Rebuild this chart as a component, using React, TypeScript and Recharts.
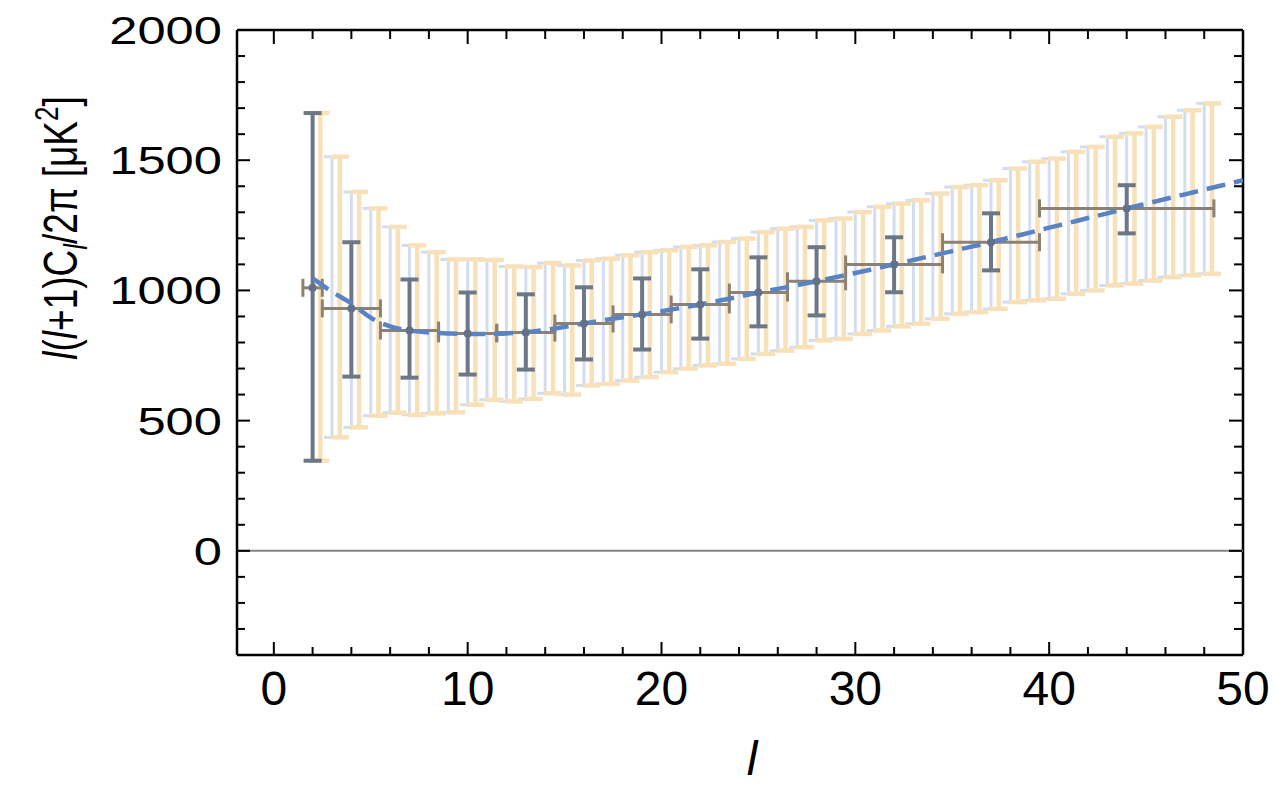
import React from "react";
import { ComposedChart, Scatter, Line, XAxis, YAxis, ErrorBar, ReferenceLine } from "recharts";

// cosmic-variance bands, one per multipole
const bandL = [2, 3, 4, 5, 6, 7, 8, 9, 10, 11, 12, 13, 14, 15, 16, 17, 18, 19, 20, 21, 22, 23, 24, 25, 26, 27, 28, 29, 30, 31, 32, 33, 34, 35, 36, 37, 38, 39, 40, 41, 42, 43, 44, 45, 46, 47, 48];
const bandLo = [346, 436, 474, 519, 530, 522, 528, 532, 561, 580, 574, 583, 605, 600, 635, 641, 654, 667, 686, 699, 712, 718, 737, 756, 769, 782, 808, 814, 833, 846, 862, 872, 891, 910, 917, 929, 955, 962, 968, 987, 1000, 1019, 1026, 1038, 1051, 1058, 1064];
const bandHi = [1681, 1513, 1378, 1315, 1244, 1173, 1147, 1119, 1119, 1117, 1092, 1090, 1105, 1096, 1115, 1122, 1135, 1147, 1154, 1167, 1173, 1186, 1199, 1224, 1237, 1244, 1269, 1276, 1301, 1321, 1333, 1346, 1372, 1397, 1404, 1423, 1468, 1494, 1506, 1532, 1551, 1590, 1603, 1628, 1667, 1692, 1718];

// binned measurements
const binL = [2, 4, 7, 10, 13, 16, 19, 22, 25, 28, 32, 37, 44];
const binLeft = [1.5, 2.5, 5.5, 8.5, 11.5, 14.5, 17.5, 20.5, 23.5, 26.5, 29.5, 34.5, 39.5];
const binRight = [2.5, 5.5, 8.5, 11.5, 14.5, 17.5, 20.5, 23.5, 26.5, 29.5, 34.5, 39.5, 48.5];
const binVal = [1010, 931, 846, 835, 838, 873, 908, 946, 992, 1035, 1100, 1185, 1315];
const binLo = [346, 669, 665, 677, 696, 735, 773, 815, 862, 904, 993, 1077, 1219];
const binHi = [1681, 1185, 1042, 992, 985, 1012, 1046, 1081, 1127, 1166, 1204, 1296, 1404];

// theory curve
const theoryL = [2, 3, 4, 5, 6, 7, 8, 9, 10, 11, 12, 13, 14, 15, 16, 17, 18, 19, 20, 21, 22, 23, 24, 25, 26, 27, 28, 29, 30, 31, 32, 33, 34, 35, 36, 37, 38, 39, 40, 41, 42, 43, 44, 45, 46, 47, 48, 49, 50];
const theoryVal = [1046, 995, 950, 895, 862, 846, 838, 835, 833, 833, 835, 839, 848, 860, 873, 885, 897, 908, 920, 933, 946, 961, 976, 992, 1006, 1020, 1035, 1051, 1067, 1083, 1100, 1117, 1134, 1151, 1168, 1185, 1204, 1222, 1241, 1259, 1278, 1296, 1315, 1333, 1351, 1369, 1387, 1405, 1423];

const xTicks = [0, 2, 4, 6, 8, 10, 12, 14, 16, 18, 20, 22, 24, 26, 28, 30, 32, 34, 36, 38, 40, 42, 44, 46, 48, 50];
const yTicks = [-300, -200, -100, 0, 100, 200, 300, 400, 500, 600, 700, 800, 900, 1000, 1100, 1200, 1300, 1400, 1500, 1600, 1700, 1800, 1900, 2000];

const BLUE_SHIFT = 0;
const YELLOW_SHIFT = 0.4;

const FONT = "'Liberation Sans', Arial, Helvetica, sans-serif";
const FRAME = { stroke: "#000", strokeWidth: 2.5 };

const blueBand = bandL.map((l, i) => ({ l: l + BLUE_SHIFT, v: bandLo[i], err: [0, bandHi[i] - bandLo[i]] }));
const yellowBand = bandL.map((l, i) => ({ l: l + YELLOW_SHIFT, v: bandLo[i], err: [0, bandHi[i] - bandLo[i]] }));
const bins = binL.map((l, i) => ({
  l,
  v: binVal[i],
  ey: [binVal[i] - binLo[i], binHi[i] - binVal[i]],
  ex: [l - binLeft[i], binRight[i] - l],
}));
const theory = theoryL.map((l, i) => ({ l, v: theoryVal[i] }));

function BottomTick({ x, y, payload }: any) {
  const major = payload.value % 10 === 0;
  return (
    <g>
      <line x1={x} y1={y} x2={x} y2={y - (major ? 13 : 8)} stroke="#000" strokeWidth={2} />
      {major && (
        <text x={x} y={y + 50} textAnchor="middle" fontSize={48} fontFamily={FONT} fill="#000">
          {payload.value}
        </text>
      )}
    </g>
  );
}

// top axis sits 1px above the frame line
function TopTick({ x, y, payload }: any) {
  const major = payload.value % 10 === 0;
  const y0 = y + 1;
  return <line x1={x} y1={y0} x2={x} y2={y0 + (major ? 13 : 8)} stroke="#000" strokeWidth={2} />;
}

function LeftTick({ x, y, payload }: any) {
  const major = payload.value % 500 === 0;
  return (
    <g>
      <line x1={x} y1={y} x2={x + (major ? 13 : 8)} y2={y} stroke="#000" strokeWidth={2} />
      {major && (
        <text
          transform={`translate(${x - 15},${y}) scale(1.3,1)`}
          textAnchor="end"
          dy="0.36em"
          fontSize={39}
          fontFamily={FONT}
          fill="#000"
        >
          {payload.value}
        </text>
      )}
    </g>
  );
}

function RightTick({ x, y, payload }: any) {
  const major = payload.value % 500 === 0;
  const x0 = x - 1;
  return <line x1={x0} y1={y} x2={x0 - (major ? 13 : 8)} y2={y} stroke="#000" strokeWidth={2} />;
}

function YTitle() {
  return (
    <text
      transform="translate(77,228) scale(1.3,1) rotate(-90)"
      textAnchor="middle"
      fontSize={37}
      fontFamily={FONT}
      fill="#000"
    >
      <tspan fontStyle="italic">l</tspan>
      <tspan>(</tspan>
      <tspan fontStyle="italic">l</tspan>
      <tspan>+1)C</tspan>
      <tspan fontStyle="italic" fontSize={26} dy={8}>l</tspan>
      <tspan dy={-8}>/2π [μK</tspan>
      <tspan fontSize={26} dy={-15}>2</tspan>
      <tspan dy={15}>]</tspan>
    </text>
  );
}

function XTitle() {
  return (
    <text x={752} y={775} textAnchor="middle" fontSize={48} fontStyle="italic" fontFamily={FONT} fill="#000">
      l
    </text>
  );
}

const noShape = () => <g />;
const dot = (p: any) => <circle cx={p.cx} cy={p.cy} r={4} fill="#62708a" />;

export default function App() {
  return (
    <div style={{ position: "absolute", left: 0, top: 0, background: "#fff" }}>
      <ComposedChart width={1275} height={797} margin={{ top: 29, right: 31, bottom: 0, left: 0 }}>
        <XAxis
          dataKey="l"
          type="number"
          domain={[-1.9, 50]}
          allowDataOverflow
          ticks={xTicks}
          interval={0}
          height={142}
          tickSize={0}
          tickMargin={0}
          tickLine={false}
          axisLine={FRAME}
          tick={(p: any) => <BottomTick {...p} />}
          label={<XTitle />}
        />
        <XAxis
          xAxisId="top"
          dataKey="l"
          orientation="top"
          type="number"
          domain={[-1.9, 50]}
          allowDataOverflow
          ticks={xTicks}
          interval={0}
          height={1}
          tickSize={0}
          tickMargin={0}
          tickLine={false}
          axisLine={false}
          tick={(p: any) => <TopTick {...p} />}
        />
        <YAxis
          dataKey="v"
          type="number"
          domain={[-400, 2000]}
          allowDataOverflow
          ticks={yTicks}
          interval={0}
          width={237}
          tickSize={0}
          tickMargin={0}
          tickLine={false}
          axisLine={FRAME}
          tick={(p: any) => <LeftTick {...p} />}
          label={<YTitle />}
        />
        <YAxis
          yAxisId="right"
          dataKey="v"
          orientation="right"
          type="number"
          domain={[-400, 2000]}
          allowDataOverflow
          ticks={yTicks}
          interval={0}
          width={1}
          tickSize={0}
          tickMargin={0}
          tickLine={false}
          axisLine={false}
          tick={(p: any) => <RightTick {...p} />}
        />
        {/* top and right frame edges */}
        <ReferenceLine y={2000} stroke="#000" strokeWidth={2.5} />
        <ReferenceLine x={50} stroke="#000" strokeWidth={2.5} />
        <ReferenceLine y={0} stroke="#858585" strokeWidth={2} />
        <Scatter data={blueBand} shape={noShape} isAnimationActive={false}>
          <ErrorBar dataKey="err" direction="y" width={8} stroke="#d3ddee" strokeWidth={3} isAnimationActive={false} />
        </Scatter>
        <Scatter data={yellowBand} shape={noShape} isAnimationActive={false}>
          <ErrorBar dataKey="err" direction="y" width={9} stroke="#f8e1b8" strokeWidth={4.5} isAnimationActive={false} />
        </Scatter>
        <Scatter data={bins} shape={dot} isAnimationActive={false}>
          <ErrorBar dataKey="ex" direction="x" width={9} stroke="#8b8273" strokeWidth={3} isAnimationActive={false} />
          <ErrorBar dataKey="ey" direction="y" width={9} stroke="#6e7786" strokeWidth={4} isAnimationActive={false} />
        </Scatter>
        <Line
          data={theory}
          dataKey="v"
          type="monotone"
          stroke="#5a83c4"
          strokeWidth={4.5}
          strokeDasharray="19 9"
          dot={false}
          isAnimationActive={false}
        />
      </ComposedChart>
    </div>
  );
}
